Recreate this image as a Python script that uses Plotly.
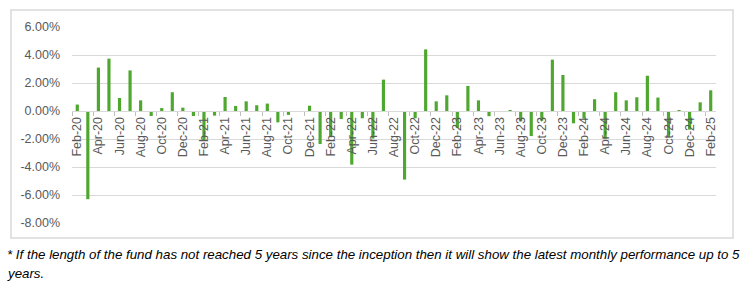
import plotly.graph_objects as go

months = [
    "Feb-20", "Mar-20", "Apr-20", "May-20", "Jun-20", "Jul-20", "Aug-20", "Sep-20", "Oct-20", "Nov-20", "Dec-20",
    "Jan-21", "Feb-21", "Mar-21", "Apr-21", "May-21", "Jun-21", "Jul-21", "Aug-21", "Sep-21", "Oct-21", "Nov-21", "Dec-21",
    "Jan-22", "Feb-22", "Mar-22", "Apr-22", "May-22", "Jun-22", "Jul-22", "Aug-22", "Sep-22", "Oct-22", "Nov-22", "Dec-22",
    "Jan-23", "Feb-23", "Mar-23", "Apr-23", "May-23", "Jun-23", "Jul-23", "Aug-23", "Sep-23", "Oct-23", "Nov-23", "Dec-23",
    "Jan-24", "Feb-24", "Mar-24", "Apr-24", "May-24", "Jun-24", "Jul-24", "Aug-24", "Sep-24", "Oct-24", "Nov-24", "Dec-24",
    "Jan-25", "Feb-25",
]

returns_pct = [
    0.46, -6.30, 3.10, 3.74, 0.93, 2.90, 0.76, -0.36, 0.21, 1.34, 0.24,
    -0.36, -2.10, -0.33, 1.00, 0.36, 0.69, 0.41, 0.53, -0.81, -0.28, 0.00, 0.38,
    -2.36, -1.88, -0.57, -3.83, -0.52, -1.97, 2.24, -0.07, -4.90, -0.52, 4.40, 0.69,
    1.12, -1.21, 1.79, 0.76, -0.37, 0.00, 0.03, -0.74, -1.79, -0.69, 3.67, 2.57,
    -0.88, -0.55, 0.84, -1.98, 1.34, 0.76, 0.98, 2.52, 0.96, -1.88, 0.03, -1.33,
    0.62, 1.48,
]

y_tick_values = [6, 4, 2, 0, -2, -4, -6, -8]
y_tick_labels = ["6.00%", "4.00%", "2.00%", "0.00%", "-2.00%", "-4.00%", "-6.00%", "-8.00%"]

footnote_lines = [
    "* If the length of the fund has not reached 5 years since the inception then it will show the latest monthly performance up to 5",
    "years.",
]

BAR = "#4EA72E"
GRID = "#D9D9D9"
TXT = "#595959"
FONT = "Liberation Sans, Arial, sans-serif"

fig = go.Figure()
fig.add_trace(go.Bar(x=months, y=returns_pct, marker=dict(color=BAR, line=dict(width=0)), width=0.3))

W, H = 748, 282
L, R, T, B = 72, 32, 27, 59
pw, ph = W - L - R, H - T - B

def px_x(p):
    return (p - L) / pw

def px_y(p):
    return (H - B - p) / ph

annotations = []
for text, ypix in zip(footnote_lines, [254, 273]):
    annotations.append(dict(
        text="<i>" + text + "</i>",
        xref="paper", yref="paper",
        x=px_x(5), y=px_y(ypix), xanchor="left", yanchor="middle",
        align="left", showarrow=False,
        font=dict(family=FONT, size=13.3, color="#000000"),
    ))

fig.update_layout(
    width=W, height=H,
    margin=dict(l=L, r=R, t=T, b=B, autoexpand=False),
    paper_bgcolor="white", plot_bgcolor="white",
    showlegend=False,
    font=dict(family=FONT, size=12, color=TXT),
    xaxis=dict(
        type="category",
        anchor="free", position=8 / 14,
        tickmode="linear", tick0=0, dtick=2,
        tickson="boundaries",
        ticks="outside", ticklen=4, tickcolor="#BFBFBF",
        tickangle=-90,
        showgrid=False,
        showline=True, linecolor=GRID, linewidth=1,
        tickfont=dict(family=FONT, size=12.5, color=TXT),
        range=[-0.5, len(months) - 0.5],
    ),
    yaxis=dict(
        range=[-8, 6],
        tickmode="array", tickvals=y_tick_values, ticktext=y_tick_labels,
        showgrid=True, gridcolor=GRID, gridwidth=1,
        zeroline=True, zerolinecolor=GRID, zerolinewidth=1,
        showline=False, ticks="",
        ticklabelstandoff=11,
        tickfont=dict(family=FONT, size=12.5, color=TXT),
    ),
    shapes=[dict(
        type="rect", xref="paper", yref="paper",
        x0=px_x(11), x1=px_x(733), y0=px_y(238), y1=px_y(10),
        line=dict(color=GRID, width=1.5), fillcolor="rgba(0,0,0,0)", layer="below",
    )],
    annotations=annotations,
)

fig.write_html("out.html", config={"displayModeBar": False},
               post_script="document.body.style.margin='0';")
